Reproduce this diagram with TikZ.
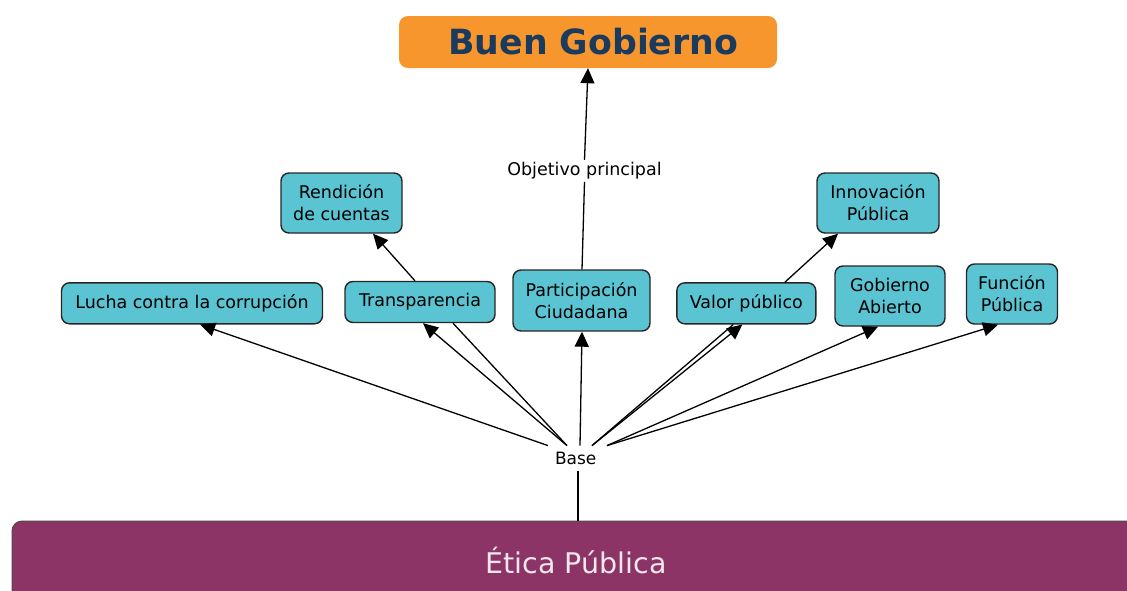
\documentclass[tikz,border=0pt]{standalone}
\usepackage{fontspec}
\setmainfont{DejaVu Sans}
\usetikzlibrary{arrows.meta}
\definecolor{boxcyan}{HTML}{5BC4D2}
\definecolor{buenorange}{HTML}{F6962C}
\definecolor{buennavy}{HTML}{1A3A5E}
\definecolor{eticapurple}{HTML}{8D3466}
\definecolor{eticatext}{HTML}{F3E6EE}
\begin{document}
\begin{tikzpicture}[x=1pt,y=-1pt,
  cbox/.style={draw=black!85, line width=1.4pt, fill=boxcyan, rounded corners=8pt,
    align=center, inner sep=0pt, font=\fontsize{17.5}{22}\selectfont},
  lbl/.style={font=\fontsize{17.5}{22}\selectfont, inner xsep=2pt, inner ysep=2.4pt},
  buenbox/.style={fill=buenorange, rounded corners=9pt, inner sep=0pt,
    text=buennavy, font=\fontsize{34.7}{40}\selectfont\bfseries},
  eticabox/.style={fill=eticapurple, draw=black!70, line width=1pt, rounded corners=10pt,
    inner sep=0pt, text=eticatext, font=\fontsize{28.5}{34}\selectfont},
  arr/.style={line width=1.3pt, -{Triangle[length=15pt,width=14pt]}},
  link/.style={line width=1.3pt}]
\useasboundingbox (0,0) rectangle (1127,590);
\clip (0,0) rectangle (1127,590);

% nodes
\node[buenbox, minimum width=378pt, minimum height=52pt] (buen) at (588,42) {\hspace*{10.6pt}Buen Gobierno};
\node[cbox, minimum width=121pt, minimum height=60pt] (rend) at (341.5,203) {Rendición\\de cuentas};
\node[cbox, minimum width=122pt, minimum height=60pt] (innov) at (878,203) {Innovación\\Pública};
\node[cbox, minimum width=261pt, minimum height=41pt] (lucha) at (192,303.3) {Lucha contra la corrupción};
\node[cbox, minimum width=150pt, minimum height=41pt] (transp) at (420,302) {Transparencia};
\node[cbox, minimum width=137pt, minimum height=61pt] (part) at (581.5,300.5) {Participación\\Ciudadana};
\node[cbox, minimum width=139pt, minimum height=41pt] (valor) at (746.3,303.3) {Valor público};
\node[cbox, minimum width=110pt, minimum height=60pt] (gob) at (890,296) {Gobierno\\Abierto};
\node[cbox, minimum width=91pt, minimum height=60pt] (funcion) at (1012,294) {Función\\Pública};
\node[lbl, anchor=base] (obj) at (584.5,175.7) {Objetivo principal};
\node[font=\fontsize{17}{20}\selectfont, inner xsep=2pt, inner ysep=6pt] (base) at (575.7,458.1) {Base};
\node[eticabox, minimum width=1128pt, minimum height=79pt] (etica) at (576,560.5) {Ética Pública};

% connectors
\draw[link] ([xshift=0.5pt]part.north) -- (obj.south);
\draw[arr] (obj.north) -- (buen.south);
\draw[arr] ([xshift=-5pt]transp.north) -- ([xshift=31.5pt]rend.south);
\draw[arr] ([xshift=38.7pt]valor.north) -- ([xshift=-40pt]innov.south);

\draw[arr] ([xshift=-27.7pt]base.north) -- ([xshift=8pt]lucha.south);
\draw[arr] ([xshift=-8.7pt]base.north) -- ([xshift=3pt]transp.south);
\draw[link] ([xshift=-8.7pt]base.north) -- ([xshift=33pt]transp.south);
\draw[arr] ([xshift=4.3pt]base.north) -- ([xshift=0.5pt]part.south);
\draw[arr] ([xshift=16.3pt]base.north) -- ([xshift=-4pt]valor.south);
\draw[link] ([xshift=16.3pt]base.north) -- ([xshift=-13pt]valor.south);
\draw[arr] ([xshift=31.3pt]base.north) -- ([xshift=-12pt]gob.south);
\draw[arr] ([xshift=31.3pt]base.north) -- ([xshift=-14pt]funcion.south);
\draw[link] ([xshift=2.3pt]base.south) -- ([xshift=2.3pt]base.south |- etica.north);
\end{tikzpicture}
\end{document}
